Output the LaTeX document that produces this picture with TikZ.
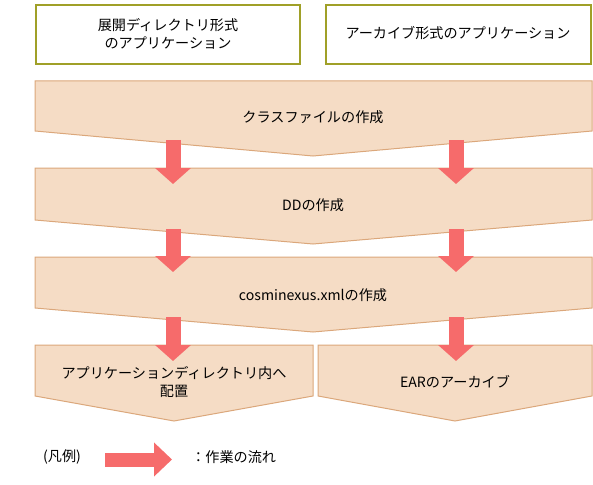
\documentclass[tikz,border=0pt]{standalone}
\usepackage{fontspec}
\setmainfont{Noto Sans CJK JP}
\usetikzlibrary{arrows.meta}
\definecolor{olive}{RGB}{160,160,40}
\definecolor{bandfill}{RGB}{245,220,197}
\definecolor{bandline}{RGB}{219,167,123}
\definecolor{flow}{RGB}{246,107,107}
\tikzset{
  appbox/.style={draw=olive, line width=1.5pt, fill=white},
  band/.style={draw=bandline, line width=0.75pt, fill=bandfill},
  lbl/.style={font=\fontsize{10.6pt}{13.5pt}\selectfont, align=center, inner sep=0pt},
  flowarrow/.style={draw=flow, line width=11.25pt,
     -{Triangle[width=26.25pt 0 0,length=12pt 0 0]}},
}
\begin{document}
\begin{tikzpicture}[x=0.75pt,y=-0.75pt]
\useasboundingbox (0,0) rectangle (593,485);
% top boxes
\draw[appbox] (36,5) rectangle (300,64);
\node[lbl] (t1) at (168,34) {展開ディレクトリ形式\\のアプリケーション};
\draw[appbox] (326,5) rectangle (591,64);
\node[lbl] (t2) at (458,33) {アーカイブ形式のアプリケーション};
% bands
\draw[band] (35,81) -- (592,81) -- (592,131) -- (313,156) -- (35,131) -- cycle;
\node[lbl] (b1) at (313,117) {クラスファイルの作成};
\draw[band] (35,168) -- (592,168) -- (592,220) -- (313,244) -- (35,220) -- cycle;
\node[lbl] (b2) at (313,205) {DDの作成};
\draw[band] (35,257) -- (592,257) -- (592,308) -- (313,332) -- (35,308) -- cycle;
\node[lbl] (b3) at (313,295) {cosminexus.xmlの作成};
\draw[band] (35,345) -- (313,345) -- (313,396) -- (174,421) -- (35,396) -- cycle;
\node[lbl] (b4) at (174,382) {アプリケーションディレクトリ内へ\\配置};
\draw[band] (318,345) -- (592,345) -- (592,396) -- (455,421) -- (318,396) -- cycle;
\node[lbl] (b5) at (455,382) {EARのアーカイブ};
% arrow coordinates
\coordinate (l1s) at (173,140); \coordinate (l1e) at (173,184);
\coordinate (r1s) at (456,140); \coordinate (r1e) at (456,184);
\coordinate (l2s) at (173,229); \coordinate (l2e) at (173,272);
\coordinate (r2s) at (456,229); \coordinate (r2e) at (456,272);
\coordinate (l3s) at (173,317); \coordinate (l3e) at (173,361);
\coordinate (r3s) at (456,317); \coordinate (r3e) at (456,361);
\draw[flowarrow] (l1s) -- (l1e);
\draw[flowarrow] (r1s) -- (r1e);
\draw[flowarrow] (l2s) -- (l2e);
\draw[flowarrow] (r2s) -- (r2e);
\draw[flowarrow] (l3s) -- (l3e);
\draw[flowarrow] (r3s) -- (r3e);
% legend
\node[lbl] (leg) at (62,457) {(凡例)};
\coordinate (lgs) at (105,459.5); \coordinate (lge) at (172,459.5);
\draw[draw=flow, line width=10.5pt, -{Triangle[width=24.75pt 0 0,length=13.5pt 0 0]}] (lgs) -- (lge);
\node[lbl, anchor=west] (legt) at (191,457) {：作業の流れ};
\end{tikzpicture}
\end{document}
